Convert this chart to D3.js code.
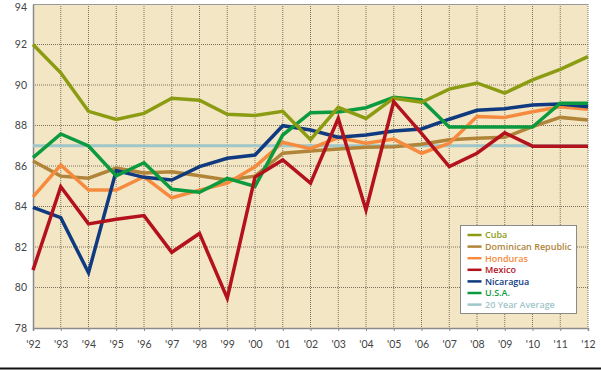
<!DOCTYPE html>
<html>
<head>
<meta charset="utf-8">
<script src="https://cdn.jsdelivr.net/npm/d3@7/dist/d3.min.js"></script>
<style>
html,body{margin:0;padding:0;background:#fff;}
svg{display:block;}
</style>
</head>
<body>
<svg id="chart" width="601" height="370"></svg>
<script>
const years = ["'92","'93","'94","'95","'96","'97","'98","'99","'00","'01","'02","'03","'04","'05","'06","'07","'08","'09","'10","'11","'12"];
const yTicks = [78,80,82,84,86,88,90,92,94];

const cuba      = [92.0,90.6,88.7,88.3,88.6,89.35,89.25,88.55,88.5,88.7,87.3,88.9,88.35,89.35,89.15,89.8,90.1,89.6,90.25,90.77,91.4];
const domRep    = [86.25,85.5,85.4,85.9,85.65,85.72,85.52,85.31,85.5,86.63,86.74,86.84,86.92,86.95,87.07,87.3,87.37,87.42,87.94,88.4,88.27];
const honduras  = [84.48,86.05,84.81,84.81,85.47,84.43,84.81,85.15,85.96,87.17,86.86,87.4,87.12,87.33,86.63,87.12,88.44,88.4,88.68,88.93,88.8];
const mexico    = [80.86,84.98,83.14,83.37,83.55,81.74,82.67,79.47,85.45,86.3,85.15,88.35,83.83,89.18,87.61,85.97,86.63,87.64,86.98,86.98,86.98];
const nicaragua = [83.96,83.45,80.73,85.77,85.44,85.31,85.97,86.38,86.54,87.99,87.78,87.42,87.53,87.73,87.83,88.31,88.75,88.83,89.01,89.06,88.93];
const usa       = [86.41,87.58,86.99,85.51,86.16,84.85,84.7,85.39,84.99,87.53,88.63,88.67,88.88,89.39,89.26,87.92,87.92,87.92,87.92,89.1,89.1];
const average   = [87.0,87.0,87.0,87.0,87.0,87.0,87.0,87.0,87.0,87.0,87.0,87.0,87.0,87.0,87.0,87.0,87.0,87.0,87.0,87.0,87.0];

const seriesNames  = ["Cuba","Dominican Republic","Honduras","Mexico","Nicaragua","U.S.A.","20 Year Average"];
const seriesColors = ["#8c9c12","#b0853a","#f68a3e","#b3121c","#0f3a80","#0c9a3e","#9fc6c9"];
const seriesValues = [cuba,domRep,honduras,mexico,nicaragua,usa,average];

const svg = d3.select("#chart");
const L = 33, R = 588, T = 4, B = 328;

const x = d3.scalePoint().domain(years).range([L, R]);
const y = d3.scaleLinear().domain([78, 94]).range([B, T]);

// background
svg.append("rect").attr("x", L).attr("y", T).attr("width", R - L).attr("height", B - T).attr("fill", "#f3e6c4");

// grid
const grid = svg.append("g");
grid.selectAll("line.v").data(years.slice(1)).join("line")
  .attr("x1", d => x(d)).attr("x2", d => x(d)).attr("y1", T).attr("y2", B)
  .attr("stroke", "#7d725e").attr("stroke-width", 1).attr("stroke-dasharray", "1,1");
grid.selectAll("line.h").data(yTicks.slice(1, -1)).join("line")
  .attr("x1", L).attr("x2", R).attr("y1", d => y(d)).attr("y2", d => y(d))
  .attr("stroke", "#7d725e").attr("stroke-width", 1).attr("stroke-dasharray", "1,1");

// top border
svg.append("line").attr("x1", L).attr("x2", R).attr("y1", T + 0.5).attr("y2", T + 0.5).attr("stroke", "#9a9a9a").attr("stroke-width", 1);

// axes
const xAxis = d3.axisBottom(x).tickSize(3).tickPadding(10);
const gx = svg.append("g").attr("transform", `translate(0,${B})`).call(xAxis);
gx.select(".domain").attr("stroke", "#8a8a8a").attr("stroke-width", 1.5);
gx.selectAll(".tick line").attr("stroke", "#8a8a8a");
gx.selectAll("text").attr("font-family", "Lato, 'Open Sans', sans-serif").attr("font-size", 10.5).attr("fill", "#444");

const yAxis = d3.axisLeft(y).tickValues(yTicks).tickSize(0).tickPadding(6).tickFormat(d3.format("d"));
const gy = svg.append("g").attr("transform", `translate(${L},0)`).call(yAxis);
gy.select(".domain").attr("stroke", "#8a8a8a").attr("stroke-width", 1.5);
gy.selectAll("text").attr("font-family", "Lato, 'Open Sans', sans-serif").attr("font-size", 10.5).attr("fill", "#444");
// keep the top label inside the picture
gy.selectAll(".tick").filter(d => d === 94).select("text").attr("dy", "0.62em");

// lines
const line = d3.line().x((d, i) => x(years[i])).y(d => y(d));
const order = [6,1,2,4,5,0,3];
order.forEach(k => {
  svg.append("path").datum(seriesValues[k])
    .attr("d", line).attr("fill", "none")
    .attr("stroke", seriesColors[k]).attr("stroke-width", k === 6 ? 3 : 3.5)
    .attr("stroke-linejoin", "miter").attr("stroke-linecap", "butt");
});

// legend
const lg = svg.append("g").attr("transform", "translate(460.5,225.5)");
lg.append("rect").attr("width", 116).attr("height", 88).attr("fill", "#fff").attr("stroke", "#8a8a8a").attr("stroke-width", 1);
seriesNames.forEach((n, i) => {
  const yy = 9.5 + i * 11.6;
  lg.append("line").attr("x1", 7).attr("x2", 21).attr("y1", yy).attr("y2", yy).attr("stroke", seriesColors[i]).attr("stroke-width", 2.5);
  lg.append("text").attr("x", 24.5).attr("y", yy + 3.4).text(n)
    .attr("font-family", "'Open Sans', Lato, sans-serif").attr("font-weight", 600).attr("font-size", 9)
    .attr("fill", seriesColors[i]);
});

// bottom frame line
svg.append("line").attr("x1", 0).attr("x2", 601).attr("y1", 368.5).attr("y2", 368.5).attr("stroke", "#111").attr("stroke-width", 2);
</script>
</body>
</html>
